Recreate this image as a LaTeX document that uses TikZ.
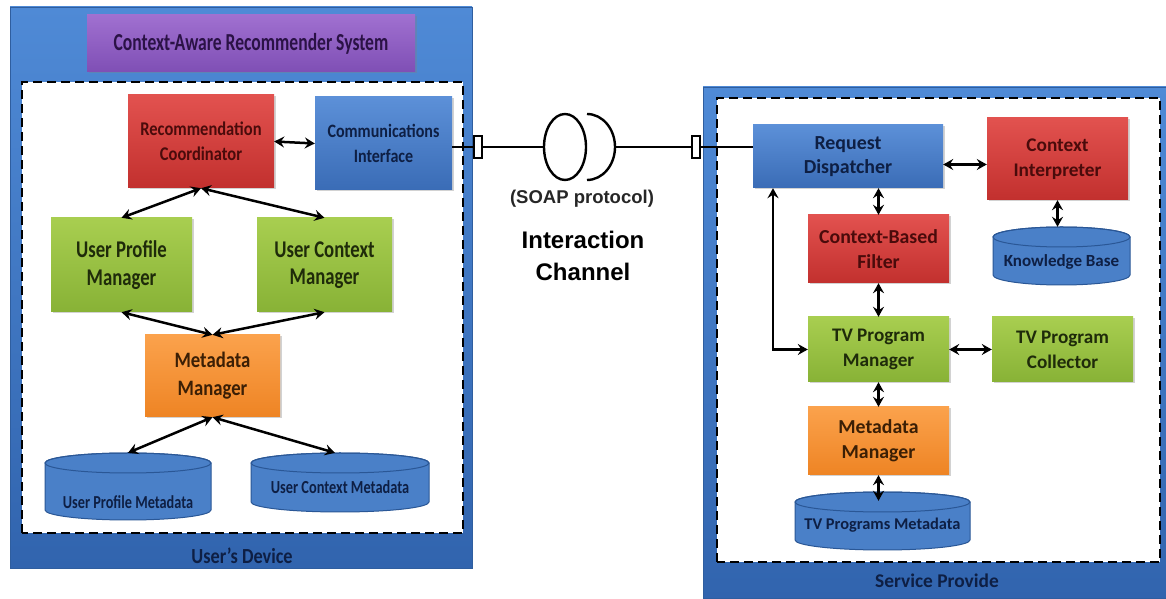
\documentclass[tikz,border=0pt]{standalone}
\usepackage{fontspec}
\setmainfont{Carlito}
\newfontfamily\arialfont{Liberation Sans}
% narrower cuts of the same face for the tightly set labels
\newfontfamily\cnA{Carlito}[FakeStretch=0.72]
\newfontfamily\cnB{Carlito}[FakeStretch=0.78]
\newfontfamily\cnC{Carlito}[FakeStretch=0.85]
\usetikzlibrary{arrows.meta,shadows,calc,shapes.geometric}

\definecolor{panelTop}{HTML}{4F8AD6}
\definecolor{panelBot}{HTML}{3164AE}
\definecolor{panelLine}{HTML}{2F5E9F}
\definecolor{bluTop}{HTML}{5C90D8}
\definecolor{bluBot}{HTML}{3A6CB6}
\definecolor{bluTxt}{HTML}{0E1F44}
\definecolor{redTop}{HTML}{E2524F}
\definecolor{redBot}{HTML}{C2302E}
\definecolor{redTxt}{HTML}{4A0B0B}
\definecolor{grnTop}{HTML}{A8CE50}
\definecolor{grnBot}{HTML}{88B236}
\definecolor{grnTxt}{HTML}{1F2B0A}
\definecolor{orgTop}{HTML}{FBA24C}
\definecolor{orgBot}{HTML}{EE8424}
\definecolor{orgTxt}{HTML}{3B1F05}
\definecolor{purTop}{HTML}{A070D0}
\definecolor{purBot}{HTML}{7F4FB5}
\definecolor{purTxt}{HTML}{2B1246}
\definecolor{cylFill}{HTML}{4A80C8}
\definecolor{cylLine}{HTML}{2A5796}

\newcommand\fs[2]{\fontsize{#1}{#2}\selectfont\bfseries}

\tikzset{
  block/.style={inner sep=0pt, align=center,
    drop shadow={opacity=0.35, shadow xshift=1.5pt, shadow yshift=-1.5pt}},
  bluebox/.style={block, top color=bluTop, bottom color=bluBot, text=bluTxt},
  redbox/.style={block, top color=redTop, bottom color=redBot, text=redTxt},
  greenbox/.style={block, top color=grnTop, bottom color=grnBot, text=grnTxt},
  orangebox/.style={block, top color=orgTop, bottom color=orgBot, text=orgTxt},
  purplebox/.style={block, top color=purTop, bottom color=purBot, text=purTxt},
  panel/.style={top color=panelTop, bottom color=panelBot, draw=panelLine, line width=0.8pt},
  innerarea/.style={fill=white, draw=black, line width=1.8pt, dash pattern=on 9pt off 5pt},
  dbl/.style={line width=2.5pt, {Stealth[length=10pt,width=11pt,inset=3.5pt]}-{Stealth[length=10pt,width=11pt,inset=3.5pt]}},
  wire/.style={line width=2.6pt, black},
  port/.style={draw=black, line width=2pt, fill=white, minimum width=8pt, minimum height=22pt, inner sep=0pt},
  paneltext/.style={text=bluTxt},
}

% database cylinder: name, left x, right x, top y, bottom y, text y, font, text
\newcommand\dbstore[8]{%
  \path[fill=cylFill, draw=cylLine, line width=1pt]
    (#2,#4-10) -- (#2,#5+10)
    arc[start angle=180, end angle=360, x radius={((#3-#2)/2)*1pt}, y radius=10pt]
    -- (#3,#4-10)
    arc[start angle=0, end angle=180, x radius={((#3-#2)/2)*1pt}, y radius=10pt] -- cycle;
  \draw[cylLine, line width=1pt] ({(#2+#3)/2},#4-10) ellipse[x radius={((#3-#2)/2)*1pt}, y radius=10pt];
  \node[minimum width={(#3-#2)*1pt}, minimum height={(#4-#5)*1pt}, inner sep=0pt] (#1)
    at ({(#2+#3)/2},{(#4+#5)/2}) {};
  \node[text=bluTxt, font=#7] at ({(#2+#3)/2},#6) {#8};
}

\begin{document}
\begin{tikzpicture}[x=1pt, y=1pt]
\useasboundingbox (0,0) rectangle (1166,599);

% ---------------- left panel: the user's device ----------------
\path[panel] (10,31) rectangle (472,592);
\path[innerarea] (22,66) rectangle (463,517);
\node[paneltext, font=\cnC\fs{21.5}{24}] (devlabel) at (242,43) {User’s Device};

\node[purplebox, minimum width=328pt, minimum height=57pt, font=\cnA\fs{24.4}{26}] (title) at (251,555.5)
  {Context-Aware Recommender System};

\node[redbox, minimum width=146pt, minimum height=93pt, font=\cnC\fs{19.4}{25}] (rc) at (201,457.5)
  {Recommendation\\Coordinator};
\node[bluebox, minimum width=137pt, minimum height=93pt, font=\cnC\fs{18.9}{25}] (ci) at (383.5,455.5)
  {Communications\\Interface};
\node[greenbox, minimum width=141pt, minimum height=94pt, font=\cnB\fs{24}{27.5}] (upm) at (121.5,334)
  {User Profile\\Manager};
\node[greenbox, minimum width=135pt, minimum height=94pt, font=\cnB\fs{24}{27.5}] (ucm) at (324.5,334)
  {User Context\\Manager};
\node[orangebox, minimum width=135pt, minimum height=82pt, font=\cnC\fs{22}{28}] (mm) at (212.5,223)
  {Metadata\\Manager};

\dbstore{upmeta}{45}{211}{146}{79}{97}{\cnB\fs{18.3}{20}}{User Profile Metadata}
\dbstore{ucmeta}{251}{429}{146}{87}{112}{\cnB\fs{18.4}{20}}{User Context Metadata}

\draw[dbl] (rc.east) -- (ci.west);
\draw[dbl] (rc.south) -- (upm.north);
\draw[dbl] (rc.south) -- (ucm.north);
\draw[dbl] (upm.south) -- (mm.north);
\draw[dbl] (ucm.south) -- (mm.north);
\draw[dbl] (mm.south) -- (upmeta.north);
\draw[dbl] (mm.south) -- ([xshift=-5pt]ucmeta.north);

% ---------------- right panel: the service provider ----------------
\path[panel] (703,1) rectangle (1166,512);
\path[innerarea] (717,37) rectangle (1160,501);
\node[paneltext, font=\fs{19.4}{22}] (splabel) at (937,18) {Service Provide};

\node[bluebox, minimum width=190pt, minimum height=63pt, font=\fs{19.9}{24}] (rd) at (848,442.5)
  {Request\\Dispatcher};
\node[redbox, minimum width=141pt, minimum height=82pt, font=\fs{19.3}{25}] (cin) at (1057.5,440)
  {Context\\Interpreter};
\node[redbox, minimum width=141pt, minimum height=68pt, font=\fs{19.8}{25}] (cbf) at (878.5,350)
  {Context-Based\\Filter};
\node[greenbox, minimum width=141pt, minimum height=65pt, font=\fs{19.2}{25}] (tvpm) at (878.5,249.5)
  {TV Program\\Manager};
\node[greenbox, minimum width=141pt, minimum height=65pt, font=\fs{19.2}{25}] (tvpc) at (1062.5,249.5)
  {TV Program\\Collector};
\node[orangebox, minimum width=141pt, minimum height=68pt, font=\fs{19.8}{25}] (mm2) at (878.5,158)
  {Metadata\\Manager};

\dbstore{kb}{993}{1130}{372}{314}{337}{\fs{17}{18}}{Knowledge Base}
\dbstore{tpmeta}{795}{970}{107}{49}{74}{\fs{16.4}{18}}{TV Programs Metadata}

\draw[dbl] ([yshift=-8pt]rd.east) -- ([yshift=-8pt]rd.east -| cin.west);
\draw[dbl] (cbf.north |- rd.south) -- (cbf.north);
\draw[dbl] (cin.south) -- (cin.south |- kb.north);
\draw[dbl] (cbf.south) -- (tvpm.north);
\draw[dbl] (tvpm.east) -- (tvpc.west);
\draw[dbl] (tvpm.south) -- (mm2.north);
\draw[dbl] (mm2.south) -- ([yshift=-9pt]mm2.south |- tpmeta.north);
\coordinate (rdfoot) at ([xshift=-75pt]rd.south);
\draw[dbl] (rdfoot) |- (tvpm.west);

% ---------------- interaction channel ----------------
\node[port] (lport) at (478,452) {};
\node[port] (rport) at (696,452) {};
\node[ellipse, draw=black, line width=2.4pt, minimum width=42pt, minimum height=66pt, inner sep=0pt] (sock) at (565,452) {};
\draw[line width=2.4pt] (587,485) arc[start angle=90, end angle=-90, x radius=28pt, y radius=33pt];
\coordinate (cupR) at (615,452);
\draw[wire] (ci.east |- lport) -- (lport.west);
\draw[wire] (lport.east) -- (sock.west);
\draw[wire] (cupR) -- (rport.west);
\draw[wire] (rport.east) -- (rport.east -| rd.west);

\node[font=\arialfont\fontsize{18.5}{22}\selectfont\bfseries, text=black!85] (soap) at (582,400) {(SOAP protocol)};
\node[font=\arialfont\fontsize{24}{32}\selectfont\bfseries, align=center] (chan) at (583,343) {Interaction\\Channel};
\end{tikzpicture}
\end{document}
